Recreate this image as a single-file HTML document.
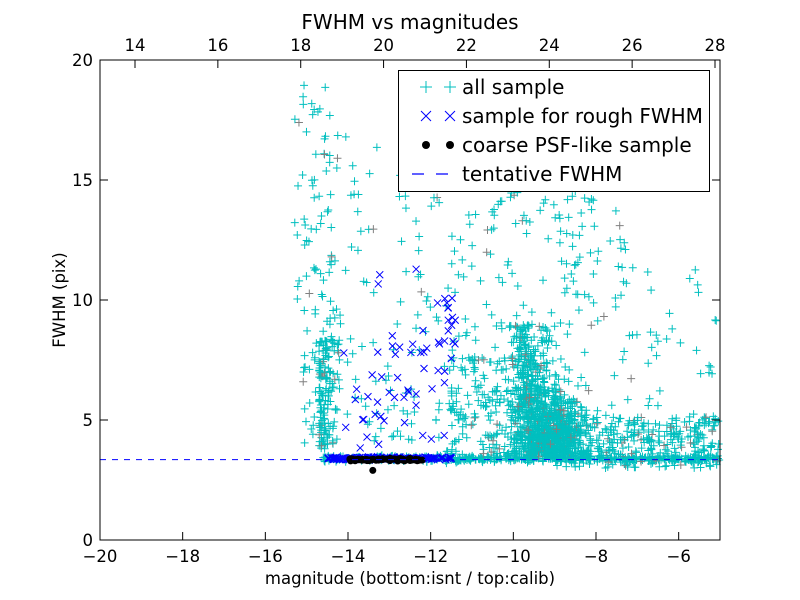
<!DOCTYPE html>
<html><head><meta charset="utf-8">
<style>
html,body{margin:0;padding:0;background:#fff;}
svg{display:block;font-family:"DejaVu Sans","Liberation Sans",sans-serif;}
</style></head>
<body>
<svg id="s" width="800" height="600" viewBox="0 0 800 600" xmlns="http://www.w3.org/2000/svg">
<rect width="800" height="600" fill="#fff"/>
<g id="pts"></g>
<line x1="100" y1="459.6" x2="720" y2="459.6" stroke="#0000ff" stroke-width="1" stroke-dasharray="6,6"/>
<rect x="100" y="60" width="620" height="480" fill="none" stroke="#000" stroke-width="1"/>
<g id="ticks" stroke="#000" stroke-width="1"></g>
<g id="labels" font-size="16.5" fill="#000"></g>
<text x="410" y="29" font-size="20" text-anchor="middle">FWHM vs magnitudes</text>
<text x="410" y="584" font-size="16.5" text-anchor="middle">magnitude (bottom:isnt / top:calib)</text>
<text transform="translate(65,300) rotate(-90)" font-size="16.5" text-anchor="middle">FWHM (pix)</text>
<g>
<rect x="398.5" y="70.5" width="311" height="121" fill="#fff" stroke="#000"/>
<path d="M420 87h12M426 81v12" stroke="#00bfbf" stroke-width="1"/>
<path d="M444 87h12M450 81v12" stroke="#00bfbf" stroke-width="1"/>
<path d="M421 111l10 10M431 111l-10 10M445 111l10 10M455 111l-10 10" stroke="#0000ff" stroke-width="1"/>
<circle cx="426" cy="145" r="4" fill="#000"/><circle cx="450" cy="145" r="4" fill="#000"/>
<path d="M412 174h12M436 174h12" stroke="#0000ff" stroke-width="1.2"/>
<text x="462" y="94" font-size="20">all sample</text>
<text x="462" y="123" font-size="20">sample for rough FWHM</text>
<text x="462" y="152" font-size="20">coarse PSF-like sample</text>
<text x="462" y="181" font-size="20">tentative FWHM</text>
</g>
</svg>
<script>
(function(){
var X=function(v){return 100+(v+20)*620/15;}, Y=function(v){return 540-v*24;};
var seed=12345;function r(){seed=(seed*1103515245+12345)%2147483648;return seed/2147483648;}
function n(){return (r()+r()+r()+r()-2)*0.9;}
var out=[];
function plus(x,y,c){if(x<-20||x>-5||y<0||y>20)return;var px=X(x),py=Y(y);out.push('<path d="M'+(px-4)+' '+py+'h8M'+px+' '+(py-4)+'v8" stroke="'+c+'" stroke-width="1"/>');}
function cross(x,y){var px=X(x),py=Y(y);out.push('<path d="M'+(px-3.5)+' '+(py-3.5)+'l7 7M'+(px+3.5)+' '+(py-3.5)+'l-7 7" stroke="#0000ff" stroke-width="1"/>');}
function dot(x,y){out.push('<circle cx="'+X(x)+'" cy="'+Y(y)+'" r="3.5" fill="#000"/>');}
function col(){return r()<0.07?'#808080':'#00bfbf';}
var i;
for(i=0;i<450;i++){plus(-14.6+r()*9.6,3.4+n()*0.12,'#00bfbf');}
for(i=0;i<800;i++){var x=-9.1+n()*0.8,y=3.5+Math.abs(n())*2.6;plus(x,y,col());}
for(i=0;i<250;i++){var x=-9.6+n()*0.5,y=5+r()*4;plus(x,y,col());}
for(i=0;i<300;i++){plus(-9+r()*4,3+r()*2.2,col());}
for(i=0;i<150;i++){plus(-11.5+r()*2,3.6+r()*4,col());}
for(i=0;i<80;i++){plus(-12+r()*5,3.2+r()*0.5,col());}
for(i=0;i<110;i++){plus(-14.7+Math.abs(n())*0.35,3.8+r()*4.5,col());}
for(i=0;i<70;i++){plus(-15.1+r()*0.9,4+r()*6,col());}
for(i=0;i<55;i++){plus(-15.3+r()*0.9,10+r()*9.5,col());}
for(i=0;i<120;i++){plus(-14.5+r()*3,4+r()*13,col());}
for(i=0;i<140;i++){plus(-11.5+r()*3.5,4+r()*11,col());}
for(i=0;i<60;i++){plus(-8+r()*3,3.5+r()*8,col());}
for(i=0;i<30;i++){plus(-9+r()*2,10+r()*4.5,col());}
for(i=0;i<150;i++){cross(-14.5+r()*3,3.4+n()*0.06);}
for(i=0;i<35;i++){cross(-14.2+r()*2.6,3.8+r()*4.5);}
for(i=0;i<15;i++){cross(-13.5+r()*1.8,6+r()*5.4);}
for(i=0;i<14;i++){cross(-11.7+r()*0.3,7+r()*3.5);}
for(i=0;i<60;i++){dot(-14+r()*1.8,3.35+n()*0.05);}
dot(-13.4,2.9);
document.getElementById('pts').innerHTML=out.join('');
var t=[],l=[];
[-20,-18,-16,-14,-12,-10,-8,-6].forEach(function(v){var x=X(v);t.push('<path d="M'+x+' 540v-8"/>');l.push('<text x="'+x+'" y="562" text-anchor="middle">'+(v<0?'\u2212'+(-v):v)+'</text>');});
[0,5,10,15,20].forEach(function(v){var y=Y(v);t.push('<path d="M100 '+y+'h8M720 '+y+'h-8"/>');l.push('<text x="93" y="'+(y+6)+'" text-anchor="end">'+v+'</text>');});
for(var k=14;k<=28;k+=2){var x=135+(k-14)*580/14;t.push('<path d="M'+x+' 60v8"/>');l.push('<text x="'+x+'" y="51" text-anchor="middle">'+k+'</text>');}
document.getElementById('ticks').innerHTML=t.join('');
document.getElementById('labels').innerHTML=l.join('');
})();
</script>
</body></html>
